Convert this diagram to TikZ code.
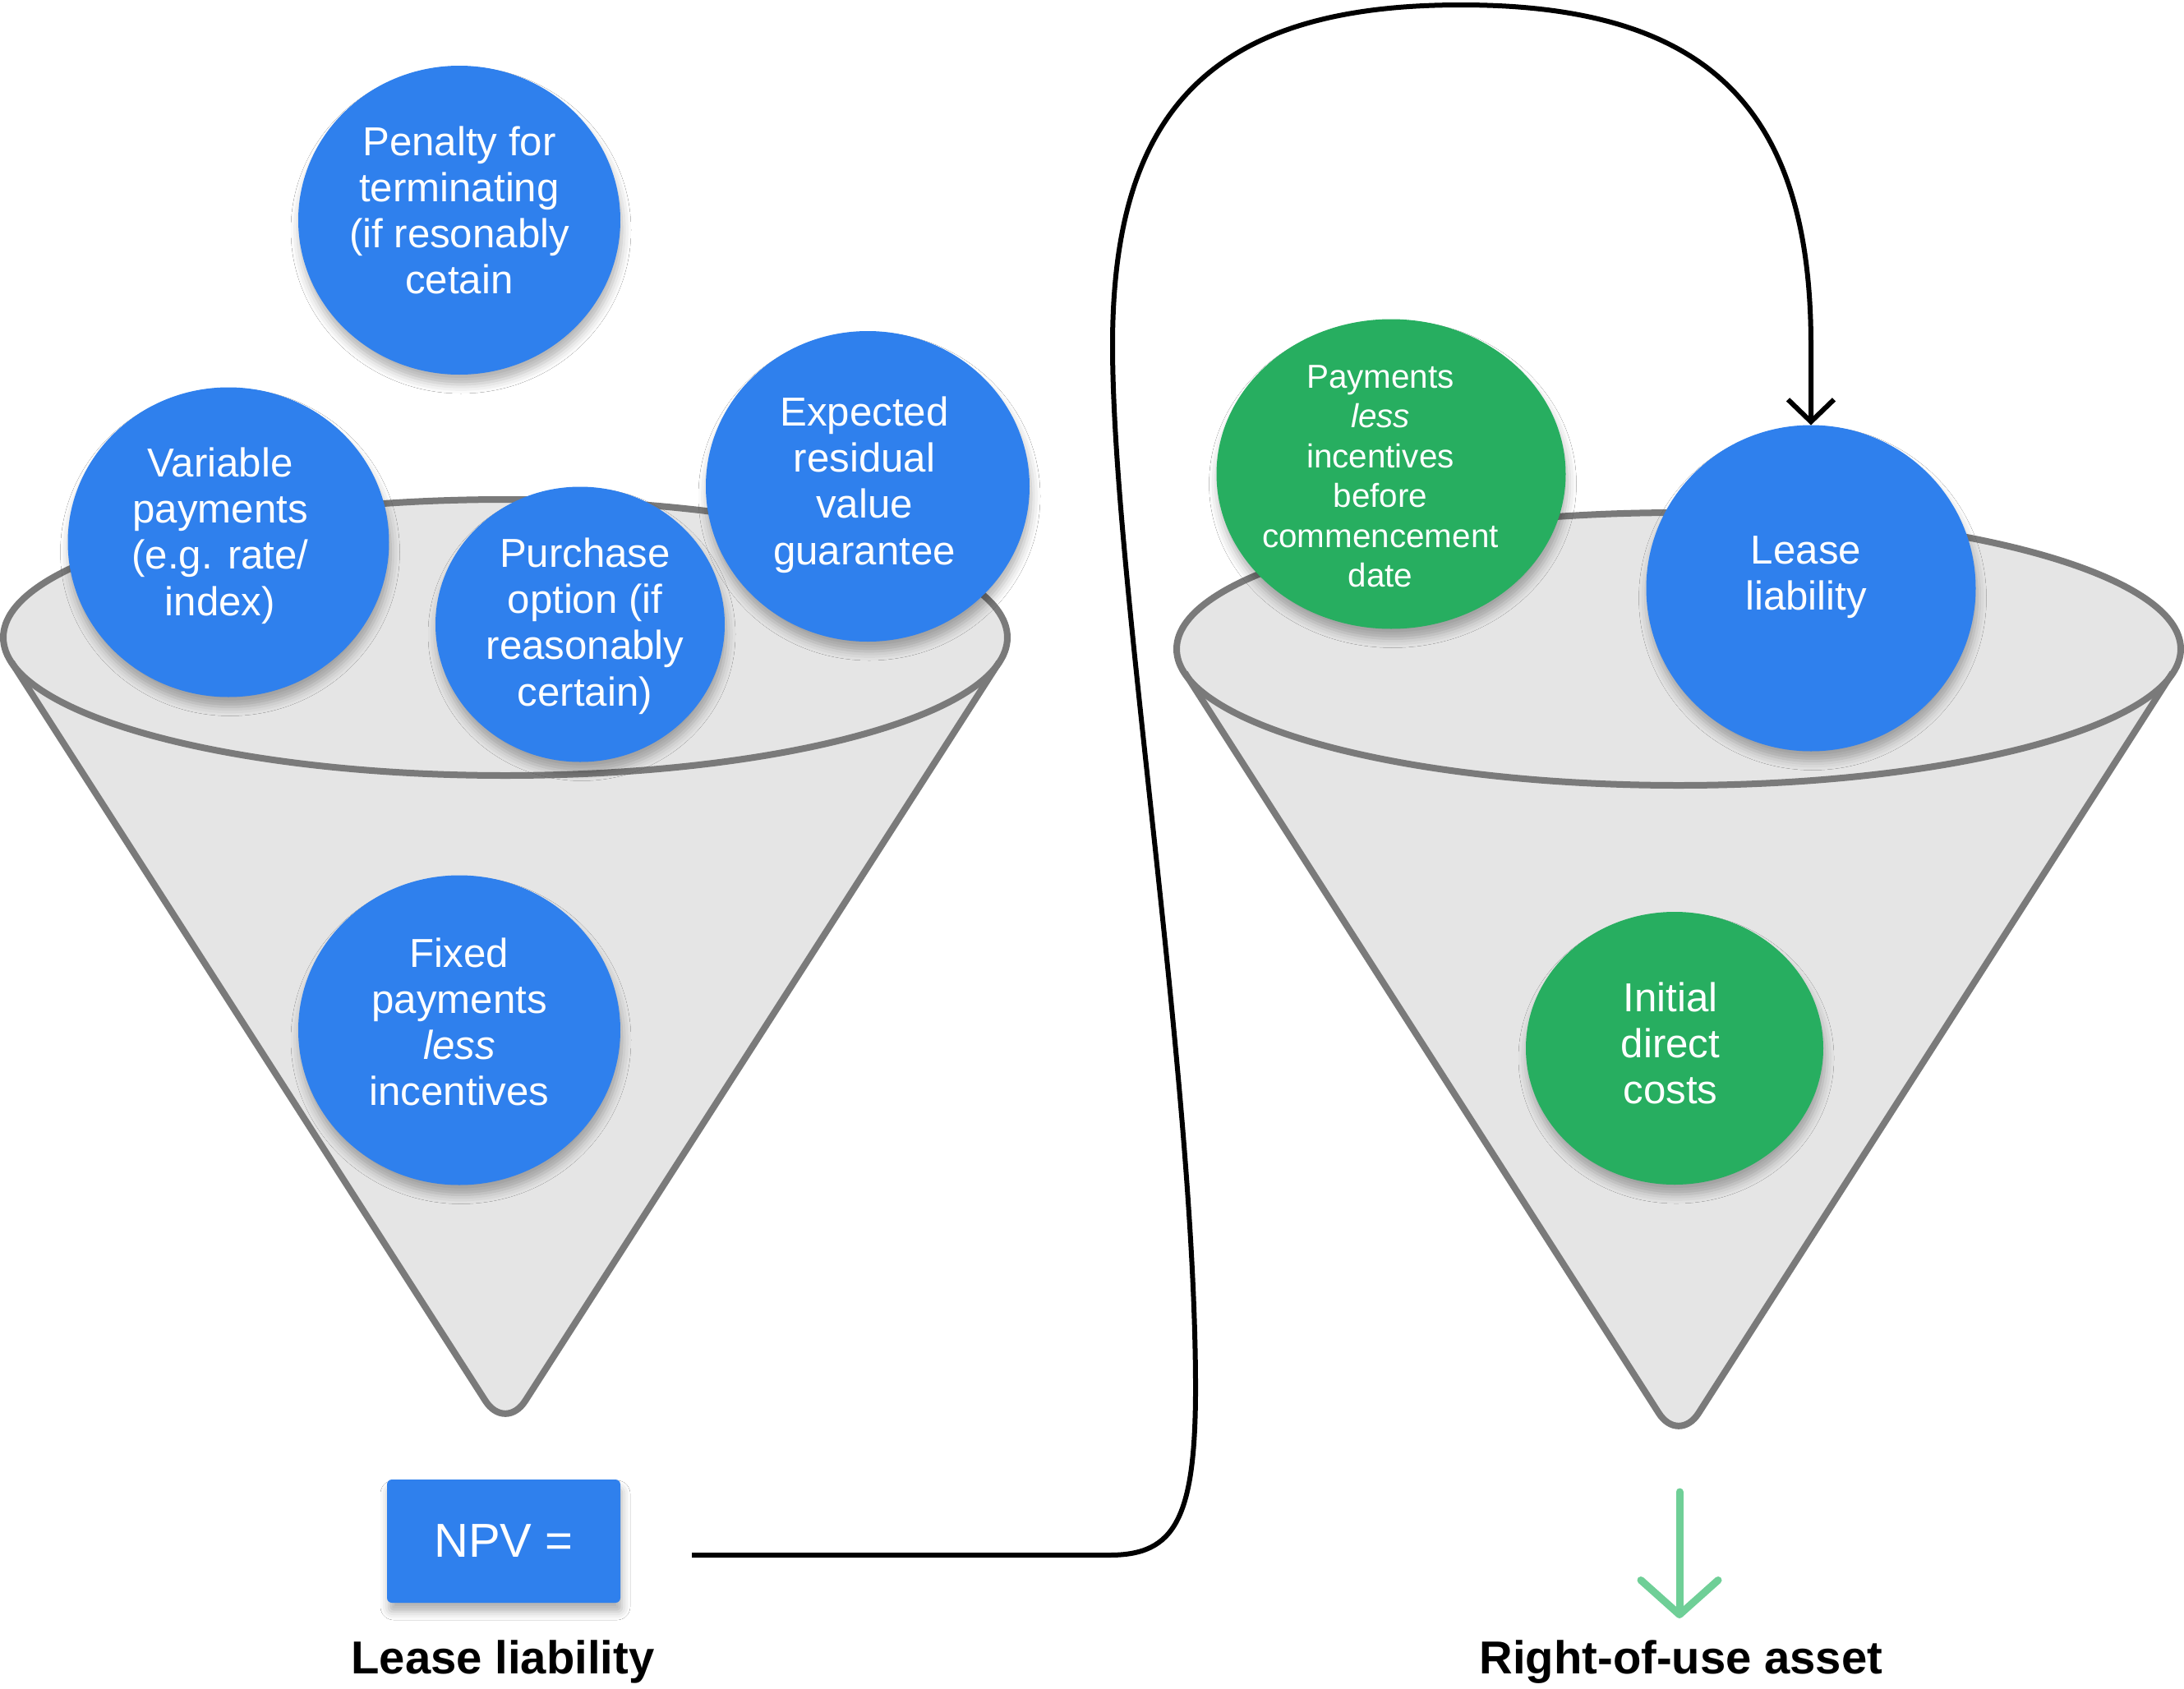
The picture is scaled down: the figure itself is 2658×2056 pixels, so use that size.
\documentclass[tikz,border=0pt]{standalone}
\usepackage{fontspec}
\setmainfont{Liberation Sans}
\usetikzlibrary{shapes.geometric,shadows.blur,arrows.meta}
\definecolor{bblue}{HTML}{2F80ED}
\definecolor{bgreen}{HTML}{27AE60}
\definecolor{lgreen}{HTML}{6FCF97}
\definecolor{ffill}{HTML}{E5E5E5}
\definecolor{fline}{HTML}{7A7A7A}
\begin{document}
\begin{tikzpicture}[x=0.1mm,y=-0.1mm,
  funnelfill/.style={fill=ffill},
  funnelline/.style={draw=fline,line width=0.8mm,line join=round},
  bubble/.style={ellipse,inner sep=0pt,outer sep=0pt,blur shadow={shadow xshift=0.2mm,shadow yshift=-1.2mm,shadow blur radius=1.1mm,shadow opacity=30}},
  blueball/.style={bubble,fill=bblue},
  greenball/.style={bubble,fill=bgreen},
  txt/.style={text=white,align=center,inner sep=0pt,font=\fontsize{14}{16}\selectfont},
  smalltxt/.style={text=white,align=center,inner sep=0pt,font=\fontsize{11.5}{13.8}\selectfont},
  caption/.style={inner sep=0pt,font=\bfseries\fontsize{16}{19}\selectfont},
  conn/.style={line width=0.6mm,draw=black},
]
\path[use as bounding box,fill=white] (0,0) rectangle (2658,2056);

% left funnel
\fill[funnelfill,rounded corners=4.5mm] (14,806) -- (615,1743) -- (1216,806) -- cycle;
\fill[funnelfill] (615,776) ellipse [x radius=61.1mm, y radius=16.8mm];
\draw[funnelline,rounded corners=4.5mm] (14,806) -- (615,1743) -- (1216,806);
\draw[funnelline] (615,776) ellipse [x radius=61.1mm, y radius=16.8mm];

% right funnel
\fill[funnelfill,rounded corners=4.5mm] (1442,819) -- (2043,1758) -- (2644,819) -- cycle;
\fill[funnelfill] (2043,790) ellipse [x radius=61.1mm, y radius=16.6mm];
\draw[funnelline,rounded corners=4.5mm] (1442,819) -- (2043,1758) -- (2644,819);
\draw[funnelline] (2043,790) ellipse [x radius=61.1mm, y radius=16.6mm];

% bubbles
\node[blueball,minimum width=39.2mm,minimum height=37.6mm] (pen) at (559,268) {};
\node[txt] (penT) at (559,256) {Penalty for\\terminating\\(if resonably\\cetain};

\node[blueball,minimum width=39.1mm,minimum height=37.7mm] (var) at (278,660) {};
\node[txt] (varT) at (268,652) {Variable\\payments\\(e.g. rate/\\index)};

\node[blueball,minimum width=35.2mm,minimum height=33.5mm] (pur) at (706,760) {};
\node[txt] (purT) at (712,762) {Purchase\\option (if\\reasonably\\certain)};

\node[blueball,minimum width=39.4mm,minimum height=37.8mm] (exp) at (1056,592) {};
\node[txt] (expT) at (1052,590) {Expected\\residual\\value\\guarantee};

\node[blueball,minimum width=39.2mm,minimum height=37.7mm] (fix) at (559,1254) {};
\node[txt] (fixT) at (559,1244) {Fixed\\payments\\\textit{less}\\incentives};

\node[greenball,minimum width=42.5mm,minimum height=37.7mm] (pay) at (1693,577) {};
\node[smalltxt] (payT) at (1680,580) {Payments\\\textit{less}\\incentives\\before\\commencement\\date};

\node[blueball,minimum width=40.1mm,minimum height=39.7mm] (ll) at (2204,716) {};
\node[txt] (llT) at (2198,703) {Lease\\liability};

\node[greenball,minimum width=36.2mm,minimum height=33.2mm] (idc) at (2038,1276) {};
\node[txt] (idcT) at (2033,1270) {Initial\\direct\\costs};

% NPV box
\node[fill=bblue,rounded corners=0.6mm,minimum width=28.4mm,minimum height=15mm,inner sep=0pt,
      text=white,font=\fontsize{16.5}{19}\selectfont,
      blur shadow={shadow xshift=0.2mm,shadow yshift=-1.1mm,shadow blur radius=1mm,shadow opacity=30}] (npv) at (613,1876) {NPV =};

% captions
\node[caption] (cap1) at (612,2023) {Lease liability};
\node[caption] (cap2) at (2046,2023) {Right-of-use asset};

% connector
\coordinate (s) at (842,1893);
\draw[conn,-{Straight Barb[length=2.7mm,width=5.6mm]}] (s) -- (1350,1893)
  .. controls (1430,1893) and (1456,1850) .. (1455,1680)
  .. controls (1453,1300) and (1354,700) .. (1354,420)
  .. controls (1354,128) and (1481,6) .. (1778,6)
  .. controls (2075,6) and (2204,128) .. (2204,420)
  -- (ll.north);

% green arrow
\coordinate (gs) at (2044,1816);
\coordinate (ge) at (2044,1970);
\draw[lgreen,line width=0.9mm,line cap=round,-{Straight Barb[length=4.2mm,width=9.4mm,line cap=round,line join=round]}] (gs) -- (ge);
\end{tikzpicture}
\end{document}
